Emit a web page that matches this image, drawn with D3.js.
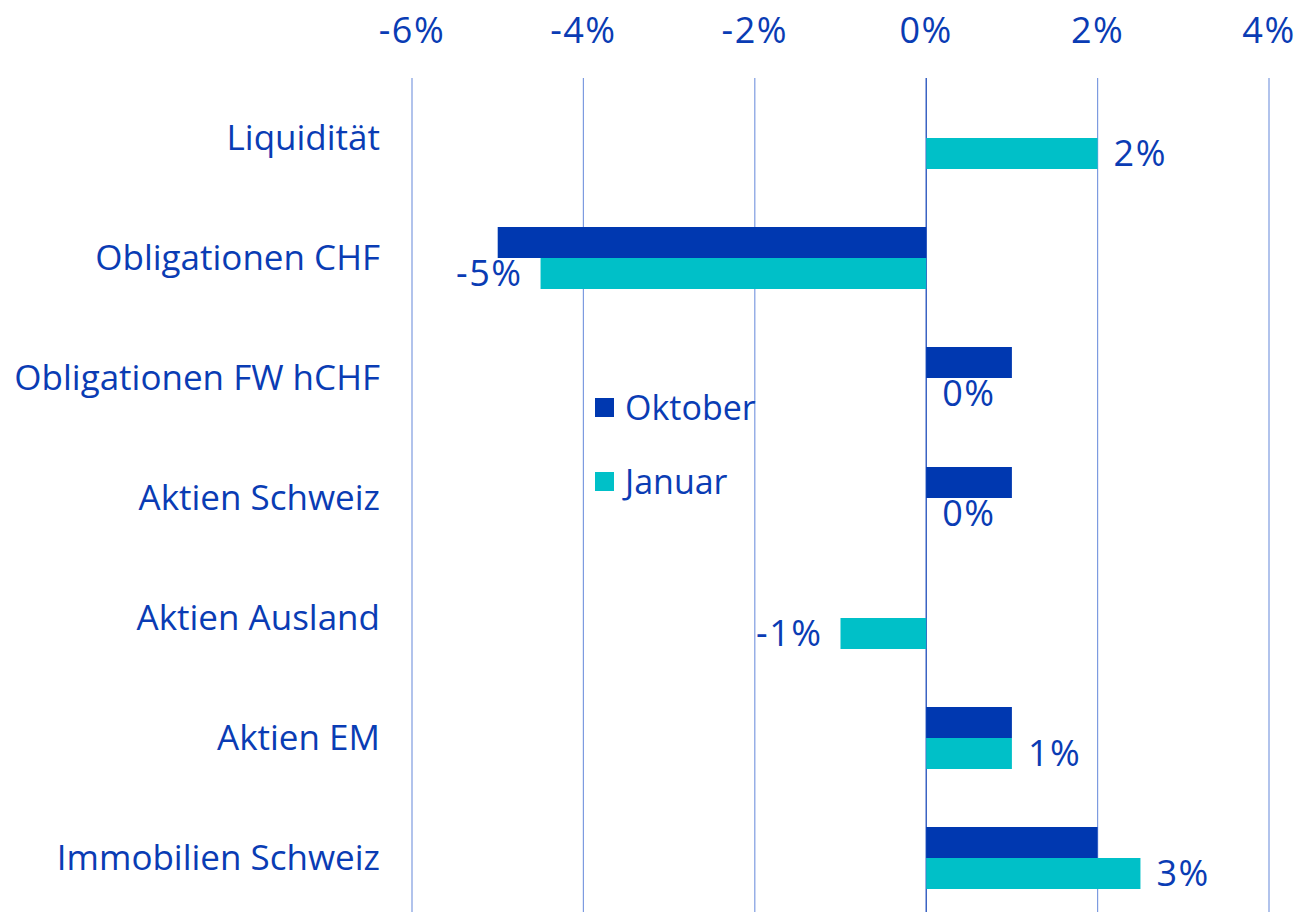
<!DOCTYPE html>
<html>
<head>
<meta charset="utf-8">
<script src="https://cdn.jsdelivr.net/npm/d3@7"></script>
<style>
  body { margin: 0; background: #fff; }
  svg text { font-family: "Open Sans", "Noto Sans", sans-serif; fill: #0a3cb4; }
</style>
</head>
<body>
<svg id="chart" width="1300" height="912"></svg>
<script>
// data
const categories = ['Liquidität', 'Obligationen CHF', 'Obligationen FW hCHF', 'Aktien Schweiz', 'Aktien Ausland', 'Aktien EM', 'Immobilien Schweiz'];
const oktober = [0, -5, 1, 1, 0, 1, 2];
const januar = [2, -4.5, 0, 0, -1, 1, 2.5];
const tickValues = [-6, -4, -2, 0, 2, 4];
const seriesNames = ['Oktober', 'Januar'];

// configs
const COL_OKT = '#0038b0';
const COL_JAN = '#00c0c8';
const GRID = '#7d9be0';
const ZERO = '#0a3cb4';
const FONT_CAT = 35;       // category labels
const FONT_NUM = 36;       // tick + value labels
const FONT_LEG = 34;
const NUM_SPACING = '1.5px';
const BAR_H = 31;

const svg = d3.select('#chart');

const x = d3.scaleLinear().domain([-6, 4]).range([412, 1269]);
const y = d3.scaleBand().domain(categories).range([78, 918]);

// grid
svg.append('g').selectAll('line')
	.data(tickValues)
	.join('line')
	.attr('x1', d => x(d)).attr('x2', d => x(d))
	.attr('y1', 78).attr('y2', 918)
	.attr('stroke', d => d === 0 ? ZERO : GRID)
	.attr('stroke-width', 1.2);

// tick labels on top
svg.append('g').selectAll('text')
	.data(tickValues)
	.join('text')
	.attr('x', d => x(d))
	.attr('y', 43)
	.attr('text-anchor', 'middle')
	.style('font-size', FONT_NUM + 'px')
	.style('letter-spacing', NUM_SPACING)
	.text(d => d + '%');

// category labels
svg.append('g').selectAll('text')
	.data(categories)
	.join('text')
	.attr('x', 380)
	.attr('y', d => y(d) + y.bandwidth() / 2)
	.attr('dy', '0.35em')
	.attr('text-anchor', 'end')
	.style('font-size', FONT_CAT + 'px')
	.text(d => d);

const rows = categories.map((c, i) => ({ cat: c, okt: oktober[i], jan: januar[i] }));
const mid = d => y(d.cat) + y.bandwidth() / 2;

// bars
svg.append('g').selectAll('rect')
	.data(rows)
	.join('rect')
	.attr('x', d => x(Math.min(0, d.okt)))
	.attr('y', d => mid(d) - BAR_H)
	.attr('width', d => Math.abs(x(d.okt) - x(0)))
	.attr('height', BAR_H)
	.attr('fill', COL_OKT);

svg.append('g').selectAll('rect')
	.data(rows)
	.join('rect')
	.attr('x', d => x(Math.min(0, d.jan)))
	.attr('y', d => mid(d))
	.attr('width', d => Math.abs(x(d.jan) - x(0)))
	.attr('height', BAR_H)
	.attr('fill', COL_JAN);

// value labels (Januar), rounded half away from zero
const roundAway = v => Math.sign(v) * Math.round(Math.abs(v));
svg.append('g').selectAll('text')
	.data(rows)
	.join('text')
	.attr('x', d => d.jan < 0 ? x(d.jan) - 18 : x(d.jan) + 16)
	.attr('y', d => mid(d) + BAR_H / 2)
	.attr('dy', '0.35em')
	.attr('text-anchor', d => d.jan < 0 ? 'end' : 'start')
	.style('font-size', FONT_NUM + 'px')
	.style('letter-spacing', NUM_SPACING)
	.text(d => roundAway(d.jan) + '%');

// legend
const legend = svg.append('g').attr('transform', 'translate(595, 408)');
const item = legend.selectAll('g')
	.data(seriesNames)
	.join('g')
	.attr('transform', (d, i) => `translate(0, ${i * 74})`);
item.append('rect')
	.attr('x', 0).attr('y', -10)
	.attr('width', 19).attr('height', 19)
	.attr('fill', (d, i) => i === 0 ? COL_OKT : COL_JAN);
item.append('text')
	.attr('x', 30)
	.attr('y', 0)
	.attr('dy', '0.35em')
	.style('font-size', FONT_LEG + 'px')
	.text(d => d);
</script>
</body>
</html>
